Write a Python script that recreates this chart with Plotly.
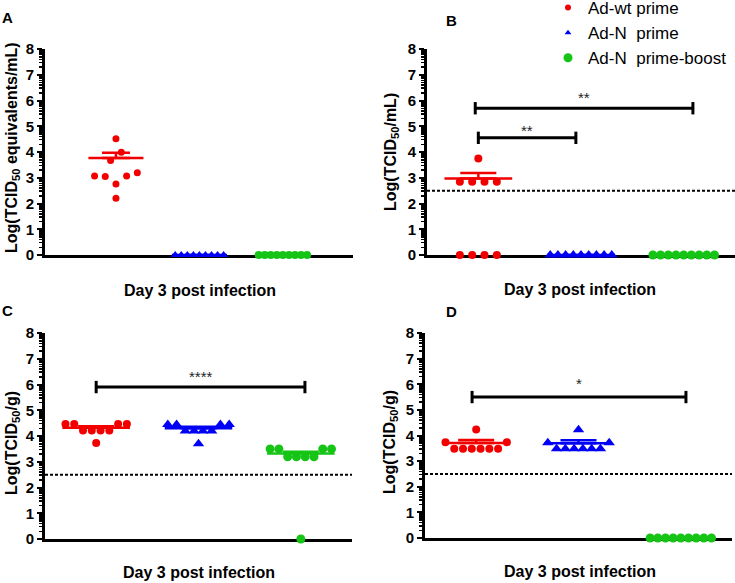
import numpy as np
import plotly.graph_objects as go

W, H = 735, 583
FONT = "Liberation Sans, Arial, sans-serif"

# ---------------- data (log10 values) ----------------
group_names = ["Ad-wt prime", "Ad-N  prime", "Ad-N  prime-boost"]
group_pos = [1, 2, 3]

A_wt = [4.51, 3.67, 3.99, 3.07, 3.05, 2.76, 3.07, 3.19, 2.20]
A_N = [0, 0, 0, 0, 0, 0, 0, 0, 0]
A_NB = [0, 0, 0, 0, 0, 0, 0, 0, 0]

B_wt = [3.75, 2.84, 2.84, 2.84, 2.84, 0, 0, 0, 0]
B_N = [0, 0, 0, 0, 0, 0, 0, 0, 0]
B_NB = [0, 0, 0, 0, 0, 0, 0, 0, 0]

C_wt = [4.47, 4.47, 4.21, 4.21, 4.21, 4.21, 4.47, 4.47, 3.73]
C_N = [4.45, 4.45, 4.19, 4.19, 4.19, 4.19, 4.45, 4.45, 3.70]
C_NB = [3.50, 3.50, 3.19, 3.19, 3.19, 3.19, 3.50, 3.50, 0]

D_wt = [4.23, 3.74, 3.48, 3.48, 3.48, 3.48, 3.48, 3.48, 3.74]
D_N = [4.22, 3.72, 3.48, 3.48, 3.48, 3.48, 3.48, 3.48, 3.72]
D_NB = [0, 0, 0, 0, 0, 0, 0, 0, 0]

y_ticks = [0, 1, 2, 3, 4, 5, 6, 7, 8]
limit_of_detection = 2.5
x_title = "Day 3 post infection"
y_titles = ["Log(TCID<sub>50</sub> equivalents/mL)", "Log(TCID<sub>50</sub>/mL)",
            "Log(TCID<sub>50</sub>/g)", "Log(TCID<sub>50</sub>/g)"]
panel_letters = ["A", "B", "C", "D"]

# significance comparisons: (from, to, bar level, label level, label)
B_sig = [(0.97, 3.09, 5.70, 6.28, "**"), (1.00, 1.95, 4.55, 4.98, "**")]
C_sig = [(1.00, 3.04, 5.90, 6.45, "****")]
D_sig = [(0.96, 3.05, 5.50, 6.20, "*")]

colors = ["#f20000", "#0000f5", "#16c416"]
symbols = ["circle", "triangle-up", "circle"]


# ---------------- helpers ----------------
def swarm_offsets(vals, step, maxw, tol=0.46):
    """Arrange points of similar value in centred rows (GraphPad-like scatter)."""
    order = sorted(range(len(vals)), key=lambda i: (-vals[i], i))
    rows = []
    for i in order:
        if rows and vals[rows[-1][0]] - vals[i] <= tol:
            rows[-1].append(i)
        else:
            rows.append([i])
    off = [0.0] * len(vals)
    for r in rows:
        r = sorted(r)
        n = len(r)
        s = step if n < 2 else min(step, maxw / (n - 1))
        for k, i in enumerate(r):
            off[i] = (k - (n - 1) / 2) * s
    return off


def mean_sem_log(vals):
    lin = 10 ** np.asarray(vals, dtype=float)
    m = lin.mean()
    sem = lin.std(ddof=1) / np.sqrt(len(lin))
    return np.log10(m), np.log10(m + sem)


# ---------------- layout geometry (pixels) ----------------
panels = [
    dict(data=[A_wt, A_N, A_NB], sig=[], x0=45, x1=353, ytop=49, ybot=255,
         xr=[0.15, 3.84], step=0.128, maxw=0.58, sizes=[7, 8, 8], cap=14, lod=False,
         ytx=12, yty=148, xtx=200, xty=291, lx=8, ly=18),
    dict(data=[B_wt, B_N, B_NB], sig=B_sig, x0=427, x1=735, ytop=49, ybot=255,
         xr=[0.5, 3.5], step=0.12, maxw=0.6, sizes=[8, 10, 9], cap=18, lod=True,
         ytx=391, yty=152, xtx=580, xty=289, lx=451, ly=21),
    dict(data=[C_wt, C_N, C_NB], sig=C_sig, x0=45, x1=352, ytop=333, ybot=539,
         xr=[0.5, 3.5], step=0.12, maxw=0.6, sizes=[8, 10, 9], cap=18, lod=True,
         ytx=12, yty=443, xtx=199, xty=572, lx=8, ly=310),
    dict(data=[D_wt, D_N, D_NB], sig=D_sig, x0=425, x1=732, ytop=333, ybot=538,
         xr=[0.5, 3.5], step=0.12, maxw=0.6, sizes=[8, 10, 9], cap=18, lod=True,
         ytx=390, yty=442, xtx=580, xty=571, lx=451, ly=311),
]

minor_vals = [n + np.log10(k) for n in range(8) for k in range(2, 10)]

fig = go.Figure()
layout = dict(width=W, height=H, autosize=False,
              margin=dict(l=0, r=0, t=0, b=0, pad=0, autoexpand=False),
              paper_bgcolor="white", plot_bgcolor="white",
              font=dict(family=FONT, color="black"), showlegend=True)
shapes, annotations = [], []

for p_i, p in enumerate(panels):
    k = "" if p_i == 0 else str(p_i + 1)
    xa, ya = "x" + k, "y" + k
    layout["xaxis" + k] = dict(
        domain=[p["x0"] / W, p["x1"] / W], range=p["xr"], anchor=ya,
        showline=True, linewidth=2.5, linecolor="black", showgrid=False, zeroline=False,
        showticklabels=False, ticks="", layer="below traces", fixedrange=True)
    layout["yaxis" + k] = dict(
        domain=[1 - p["ybot"] / H, 1 - p["ytop"] / H], range=[0, 8], anchor=xa,
        showline=True, linewidth=3, linecolor="black", showgrid=False, zeroline=False,
        tickmode="array", tickvals=y_ticks, ticks="outside", ticklen=5, tickwidth=2,
        tickcolor="black",
        tickfont=dict(family=FONT, size=15, color="black", weight="bold"),
        minor=dict(tickmode="array", tickvals=minor_vals, ticks="outside", ticklen=3,
                   tickwidth=1.5, tickcolor="black", showgrid=False),
        layer="above traces", fixedrange=True)

    # limit of detection
    if p["lod"]:
        shapes.append(dict(type="line", xref=xa + " domain", yref=ya, x0=0, x1=1,
                           y0=limit_of_detection, y1=limit_of_detection,
                           line=dict(color="black", width=2, dash="3px,2px")))

    for g, vals in enumerate(p["data"]):
        m, up = mean_sem_log(vals)
        # mean line + SEM (upper)
        fig.add_trace(go.Scatter(
            x=[group_pos[g]], y=[m], mode="markers", xaxis=xa, yaxis=ya,
            marker=dict(size=1, color="rgba(0,0,0,0)"), showlegend=False,
            hoverinfo="skip", cliponaxis=False,
            error_x=dict(type="data", array=[0.33], symmetric=True, width=0,
                         thickness=2.5, color=colors[g]),
            error_y=dict(type="data", array=[up - m], arrayminus=[0], symmetric=False,
                         width=p["cap"], thickness=2.5, color=colors[g])))
        offs = swarm_offsets(vals, p["step"], p["maxw"])
        fig.add_trace(go.Scatter(
            x=[group_pos[g] + o for o in offs], y=vals, mode="markers",
            xaxis=xa, yaxis=ya, cliponaxis=False, showlegend=False,
            name=group_names[g],
            marker=dict(symbol=symbols[g], size=p["sizes"][g], color=colors[g],
                        line=dict(width=0))))

    # significance bars
    for (a, b, lvl, tl, lab) in p["sig"]:
        shapes.append(dict(type="line", xref=xa, yref=ya, x0=a, x1=b, y0=lvl, y1=lvl,
                           line=dict(color="black", width=3)))
        for xx in (a, b):
            shapes.append(dict(type="line", xref=xa, yref=ya, x0=xx, x1=xx,
                               y0=lvl - 0.24, y1=lvl + 0.24,
                               line=dict(color="black", width=3)))
        annotations.append(dict(x=(a + b) / 2, y=tl, xref=xa, yref=ya,
                                text=lab, showarrow=False, yshift=-4,
                                font=dict(family=FONT, size=15, color="#222")))

    # titles and panel letter
    annotations.append(dict(x=p["ytx"] / W, y=1 - p["yty"] / H, xref="paper", yref="paper",
                            text=y_titles[p_i], textangle=-90, showarrow=False,
                            xanchor="center", yanchor="middle",
                            font=dict(family=FONT, size=16, color="black", weight="bold")))
    annotations.append(dict(x=p["xtx"] / W, y=1 - p["xty"] / H, xref="paper", yref="paper",
                            text=x_title, showarrow=False, xanchor="center", yanchor="middle",
                            font=dict(family=FONT, size=16, color="black", weight="bold")))
    annotations.append(dict(x=p["lx"] / W, y=1 - p["ly"] / H, xref="paper", yref="paper",
                            text=panel_letters[p_i], showarrow=False, xanchor="center",
                            yanchor="middle",
                            font=dict(family=FONT, size=15, color="black", weight="bold")))

# legend entries
legend_sizes = [6, 6, 9]
for g in range(3):
    fig.add_trace(go.Scatter(x=[None], y=[None], mode="markers", name=group_names[g],
                             marker=dict(symbol=symbols[g], size=legend_sizes[g],
                                         color=colors[g]),
                             xaxis="x2", yaxis="y2", showlegend=True))

layout["legend"] = dict(x=548 / W, y=1 + 10 / H, xanchor="left", yanchor="top",
                        font=dict(family=FONT, size=17, color="black"),
                        bgcolor="rgba(0,0,0,0)", borderwidth=0, itemsizing="trace")
layout["shapes"] = shapes
layout["annotations"] = annotations
fig.update_layout(**layout)

fig.write_html("out.html", config={"displayModeBar": False, "staticPlot": True},
               post_script="document.body.style.margin='0';document.body.style.padding='0';")
